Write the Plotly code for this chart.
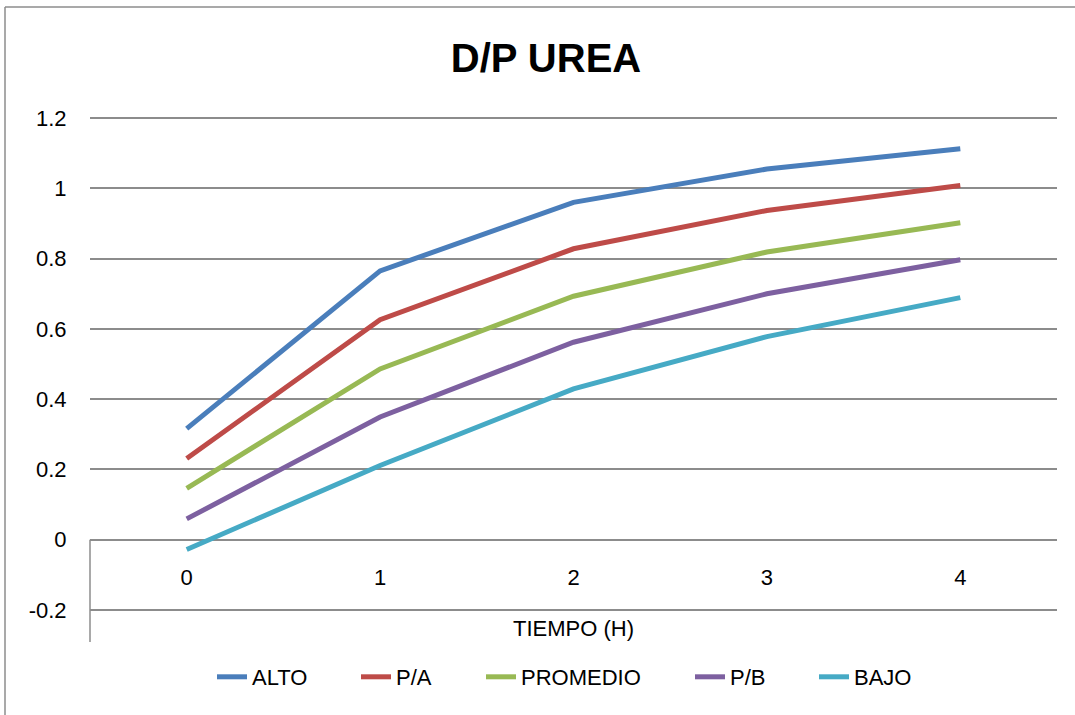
import plotly.graph_objects as go

# ---- data ----
tiempo = [0, 1, 2, 3, 4]
alto = [0.316, 0.765, 0.960, 1.055, 1.113]
p_a = [0.231, 0.626, 0.828, 0.937, 1.008]
promedio = [0.146, 0.486, 0.693, 0.819, 0.902]
p_b = [0.059, 0.349, 0.562, 0.700, 0.797]
bajo = [-0.028, 0.211, 0.429, 0.578, 0.689]
series_names = ["ALTO", "P/A", "PROMEDIO", "P/B", "BAJO"]
y_ticks = [-0.2, 0, 0.2, 0.4, 0.6, 0.8, 1.0, 1.2]
y_ticktext = ["-0.2", "0", "0.2", "0.4", "0.6", "0.8", "1", "1.2"]
x_ticktext = ["0", "1", "2", "3", "4"]

colors = ["#4A7EBB", "#BE4B48", "#98B954", "#7D60A0", "#46AAC5"]
series = [alto, p_a, promedio, p_b, bajo]
# left pixel of each legend entry's text in the reference layout
legend_text_px = [252, 396, 521, 730, 854]

FONT = "Liberation Sans, Arial, sans-serif"
GRID = "#8C8C8C"

L, R, T, B = 90, 18, 116, 103
W, H = 1075, 715
pw, ph = W - L - R, H - T - B

def px_to_paper_x(px):
    return (px - L) / pw

def px_to_paper_y(py):
    return (H - B - py) / ph

fig = go.Figure()
legend_ids = ["legend"] + [f"legend{i}" for i in range(2, len(series_names) + 1)]
for name, vals, col, lid in zip(series_names, series, colors, legend_ids):
    fig.add_trace(go.Scatter(
        x=tiempo, y=vals, name=name, mode="lines",
        line=dict(color=col, width=5), legend=lid,
    ))

eps = 0.006
ymin, ymax = y_ticks[0] - eps, y_ticks[-1] + eps
zero_frac = (0 - ymin) / (ymax - ymin)

legend_layouts = {}
for lid, tx in zip(legend_ids, legend_text_px):
    legend_layouts[lid] = dict(
        orientation="h", xref="paper", yref="paper",
        x=px_to_paper_x(tx - 40), xanchor="left",
        y=px_to_paper_y(677), yanchor="middle",
        font=dict(family=FONT, size=22, color="black"),
        bgcolor="rgba(0,0,0,0)", borderwidth=0,
    )

fig.update_layout(
    width=W, height=H,
    margin=dict(l=L, r=R, t=T, b=B),
    paper_bgcolor="white", plot_bgcolor="white",
    font=dict(family=FONT, size=22, color="black"),
    title=dict(text="<b>D/P UREA</b>", x=546 / W, xref="container", xanchor="center",
               y=1 - 58 / H, yref="container", yanchor="middle",
               font=dict(family=FONT, size=40, color="black")),
    showlegend=True,
    xaxis=dict(range=[-0.5, 4.5], tickvals=tiempo, ticktext=x_ticktext,
               showgrid=False, zeroline=False, showline=False,
               anchor="free", position=zero_frac,
               ticks="outside", ticklen=18, tickcolor="rgba(0,0,0,0)",
               tickfont=dict(family=FONT, size=22, color="black")),
    yaxis=dict(range=[ymin, ymax], tickvals=y_ticks, ticktext=y_ticktext,
               showgrid=True, gridcolor=GRID, gridwidth=1.5,
               zeroline=True, zerolinecolor=GRID, zerolinewidth=1.5,
               showline=False, ticks="outside", ticklen=18, tickcolor="rgba(0,0,0,0)",
               tickfont=dict(family=FONT, size=22, color="black")),
    annotations=[dict(text="TIEMPO (H)", xref="paper", yref="paper",
                      x=px_to_paper_x(573), y=px_to_paper_y(628),
                      xanchor="center", yanchor="middle", showarrow=False,
                      font=dict(family=FONT, size=22, color="black"))],
    shapes=[
        dict(type="line", xref="paper", yref="paper",
             x0=px_to_paper_x(5), x1=px_to_paper_x(5),
             y0=px_to_paper_y(7), y1=px_to_paper_y(760),
             line=dict(color="#8C8C8C", width=1.5)),
        dict(type="line", xref="paper", yref="paper",
             x0=px_to_paper_x(5), x1=px_to_paper_x(1100),
             y0=px_to_paper_y(7), y1=px_to_paper_y(7),
             line=dict(color="#8C8C8C", width=1.5)),
        dict(type="line", xref="paper", yref="paper",
             x0=0, x1=0, y0=zero_frac, y1=px_to_paper_y(642),
             line=dict(color=GRID, width=1.5)),
    ],
    **legend_layouts,
)

fig.write_html("out.html",
               config={"displayModeBar": False},
               post_script="document.body.style.margin='0';document.body.style.overflow='hidden';")
